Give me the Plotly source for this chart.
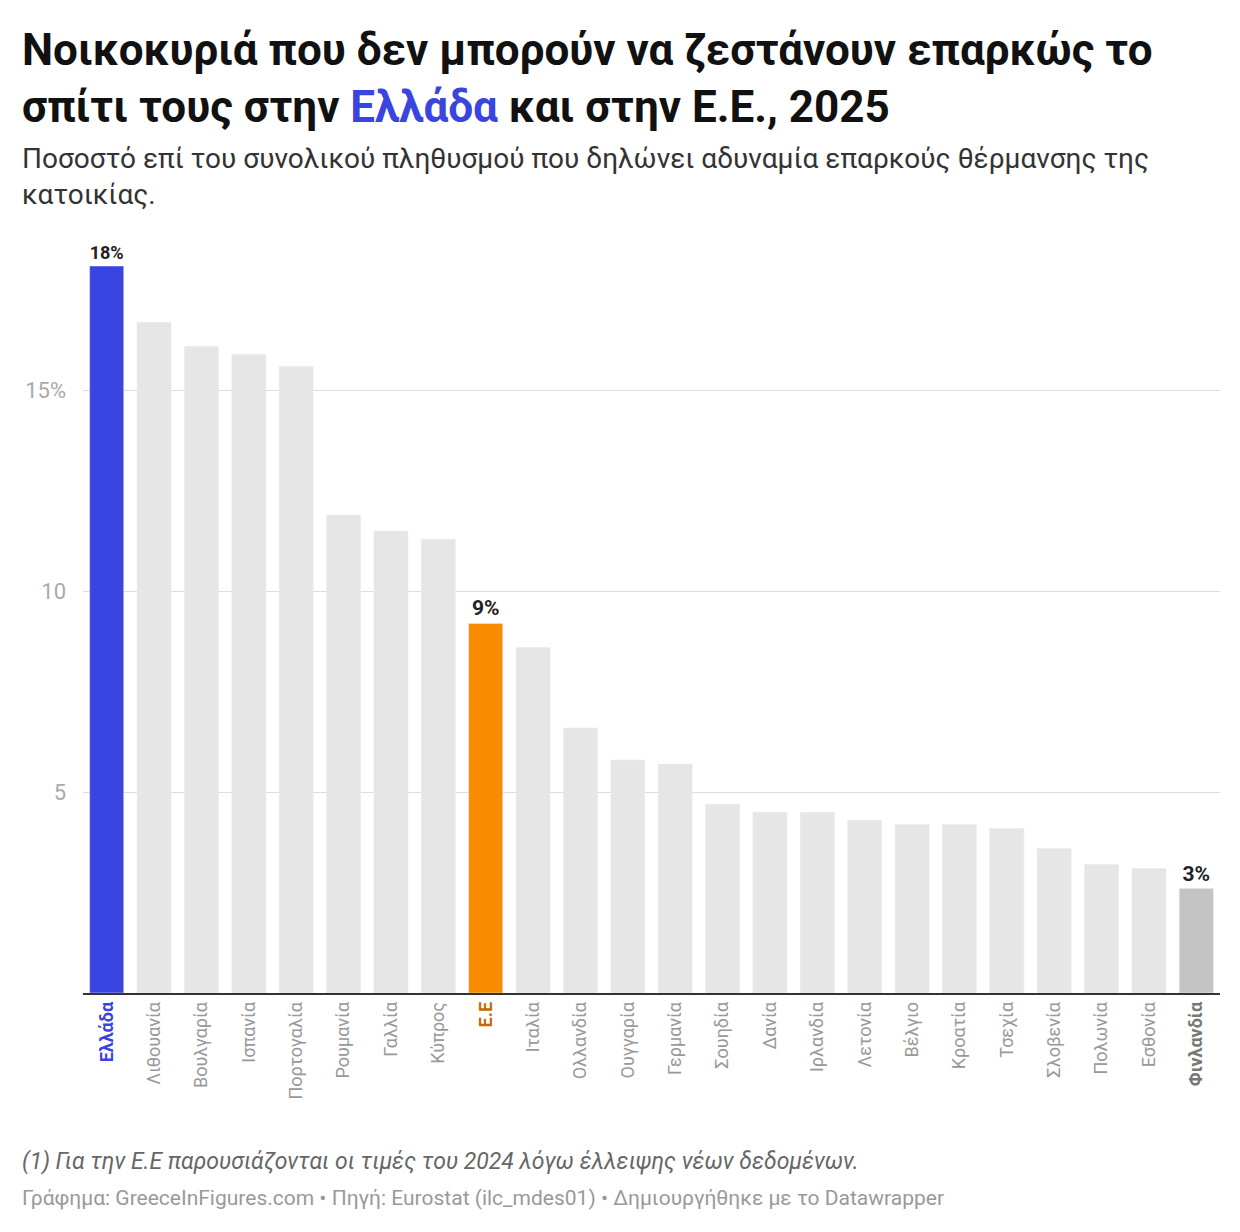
import plotly.graph_objects as go

countries = ["Ελλάδα","Λιθουανία","Βουλγαρία","Ισπανία","Πορτογαλία","Ρουμανία","Γαλλία","Κύπρος","Ε.Ε","Ιταλία","Ολλανδία","Ουγγαρία","Γερμανία","Σουηδία","Δανία","Ιρλανδία","Λετονία","Βέλγιο","Κροατία","Τσεχία","Σλοβενία","Πολωνία","Εσθονία","Φινλανδία"]
values = [18.1,16.7,16.1,15.9,15.6,11.9,11.5,11.3,9.2,8.6,6.6,5.8,5.7,4.7,4.5,4.5,4.3,4.2,4.2,4.1,3.6,3.2,3.1,2.6]
bar_labels = {"Ελλάδα":"18%","Ε.Ε":"9%","Φινλανδία":"3%"}
tick_vals = [5,10,15]
tick_text = ["5","10","15%"]

special = {"Ελλάδα":"#3a44e0","Ε.Ε":"#f78c00","Φινλανδία":"#c4c4c4"}
label_col = {"Ελλάδα":"#3a44e0","Ε.Ε":"#c46a00","Φινλανδία":"#777777"}
colors = [special.get(c,"#e6e6e6") for c in countries]
ticks = [f"<b><span style='color:{label_col[c]}'>{c}</span></b>" if c in label_col else c for c in countries]
texts = [bar_labels.get(c,"") for c in countries]

fig = go.Figure(go.Bar(x=countries, y=values, marker_color=colors, text=texts,
    textposition="outside", cliponaxis=False,
    textfont=dict(family="Roboto", size=21, color="#222"), texttemplate="<b>%{text}</b>", hoverinfo="skip"))

fig.update_layout(width=1240, height=1232, plot_bgcolor="white", paper_bgcolor="white",
    margin=dict(l=75, r=28, t=258, b=247), bargap=0.28, showlegend=False,
    font=dict(family="Roboto", color="#999"))
fig.update_yaxes(range=[0,18.1], tickvals=tick_vals, ticktext=tick_text, gridcolor="#dddddd",
    tickfont=dict(size=22, color="#aaa"), zeroline=False, ticks="", ticklabelstandoff=16)
fig.update_xaxes(tickmode="array", tickvals=countries, ticktext=ticks, tickangle=-90,
    tickfont=dict(size=18, color="#999"), showline=True, linecolor="#333", linewidth=1.5)

X0 = -63/1137
fig.add_annotation(xref="paper", yref="paper", x=X0, y=1+(266-22)/727, xanchor="left", yanchor="top", align="left",
    showarrow=False, text="<b>Νοικοκυριά που δεν μπορούν να ζεστάνουν επαρκώς το<br>σπίτι τους στην <span style='color:#3a44e0'>Ελλάδα</span> και στην Ε.Ε., 2025</b>",
    font=dict(family="Roboto", size=44, color="#111"))
fig.add_annotation(xref="paper", yref="paper", x=X0, y=1+(266-140)/727, xanchor="left", yanchor="top", align="left",
    showarrow=False, text="Ποσοστό επί του συνολικού πληθυσμού που δηλώνει αδυναμία επαρκούς θέρμανσης της<br>κατοικίας.",
    font=dict(family="Roboto", size=28, color="#333"))
fig.add_annotation(xref="paper", yref="paper", x=X0, y=-(1146-993)/727, xanchor="left", yanchor="top",
    showarrow=False, text="<i>(1) Για την Ε.Ε παρουσιάζονται οι τιμές του 2024 λόγω έλλειψης νέων δεδομένων.</i>",
    font=dict(family="Roboto", size=23, color="#666"))
fig.add_annotation(xref="paper", yref="paper", x=X0, y=-(1184-993)/727, xanchor="left", yanchor="top",
    showarrow=False, text="Γράφημα: GreeceInFigures.com • Πηγή: Eurostat (ilc_mdes01) • Δημιουργήθηκε με το Datawrapper",
    font=dict(family="Roboto", size=21, color="#999"))
fig.write_html("out.html")
